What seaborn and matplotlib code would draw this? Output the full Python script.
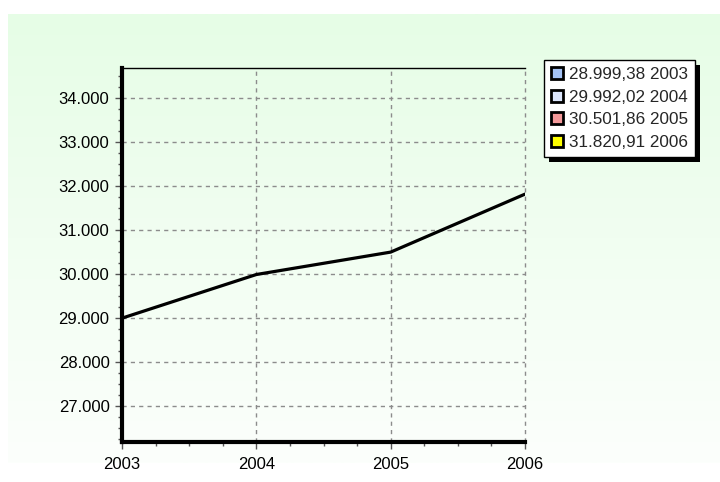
import numpy as np
import pandas as pd
import matplotlib
matplotlib.use("Agg")
import matplotlib.pyplot as plt
import matplotlib.ticker as mticker
from matplotlib.patches import Patch, Rectangle
import seaborn as sns

years = [2003, 2004, 2005, 2006]
values = [28999.38, 29992.02, 30501.86, 31820.91]
legend_labels = ["28.999,38 2003", "29.992,02 2004", "30.501,86 2005", "31.820,91 2006"]
legend_colors = ["#a4c2f4", "#dce6fc", "#f4999a", "#ffff00"]
yticks = [27000, 28000, 29000, 30000, 31000, 32000, 33000, 34000]

sns.set_style("ticks")
plt.rcParams['font.family'] = ['Liberation Sans', 'DejaVu Sans']

fig = plt.figure(figsize=(7.2, 4.82), dpi=100)
fig.patch.set_facecolor("white")

# background gradient
bg = fig.add_axes([8/720, 1 - 463/482, 1 - 8/720, (463 - 14)/482], zorder=-10)
grad = np.linspace(0, 1, 256).reshape(-1, 1)
top = np.array([230, 253, 230]) / 255
bot = np.array([252, 255, 252]) / 255
img = top[None, None, :] * (1 - grad[:, :, None]) + bot[None, None, :] * grad[:, :, None]
bg.imshow(img, aspect="auto", extent=[0, 1, 0, 1])
bg.set_axis_off()

ax = fig.add_axes([122/720, 1 - 442/482, (525 - 122)/720, (442 - 68)/482])
ax.patch.set_alpha(0)

df = pd.DataFrame({"year": years, "value": values})
sns.lineplot(data=df, x="year", y="value", ax=ax, color="black", linewidth=2.3, zorder=5)

ax.set_xlim(2003, 2006)
ax.set_ylim(26182, 34690)
ax.set_xticks(years)
ax.set_xticklabels([str(y) for y in years])
ax.set_yticks(yticks)
ax.yaxis.set_major_formatter(mticker.FuncFormatter(lambda v, p: f"{int(v):,}".replace(",", ".")))
ax.xaxis.set_minor_locator(mticker.AutoMinorLocator(4))
ax.yaxis.set_minor_locator(mticker.AutoMinorLocator(4))
ax.set_xlabel("")
ax.set_ylabel("")

ax.grid(True, which="major", color="#8c8c8c", linestyle=(0, (3, 3)), linewidth=1)
ax.set_axisbelow(True)
for t in ax.xaxis.get_major_ticks():
    t.gridline.set_clip_on(False)

for s in ["left", "bottom"]:
    ax.spines[s].set_linewidth(3)
    ax.spines[s].set_color("black")
ax.spines["top"].set_visible(True)
ax.spines["top"].set_linewidth(1)
ax.spines["top"].set_color("black")
ax.spines["right"].set_visible(False)

ax.tick_params(axis="both", which="major", direction="out", length=5, width=1,
               color="#555555", labelsize=12, labelcolor="black")
ax.tick_params(axis="x", which="major", pad=6)
ax.tick_params(axis="y", which="major", pad=4)
ax.tick_params(axis="both", which="minor", direction="out", length=3, width=1, color="#555555")

handles = [Patch(facecolor=c, edgecolor="black", linewidth=2) for c in legend_colors]
leg = ax.legend(handles, legend_labels, loc="upper left",
                bbox_to_anchor=(544/720, 1 - 60/482), bbox_transform=fig.transFigure,
                borderaxespad=0, fancybox=False, frameon=True, fontsize=12.3,
                handlelength=0.7, handleheight=0.7, handletextpad=0.35,
                labelspacing=0.45, borderpad=0.4, framealpha=1)
leg.get_frame().set_edgecolor("black")
leg.get_frame().set_linewidth(1)
leg.get_frame().set_facecolor("white")
leg.set_zorder(10)

fig.canvas.draw()
bb = leg.get_window_extent()
shadow = Rectangle((bb.x0 + 5, bb.y0 - 5), bb.width, bb.height, transform=None,
                   facecolor="black", edgecolor="none", clip_on=False, zorder=9)
ax.add_artist(shadow)

fig.savefig("out.png", dpi=100)
